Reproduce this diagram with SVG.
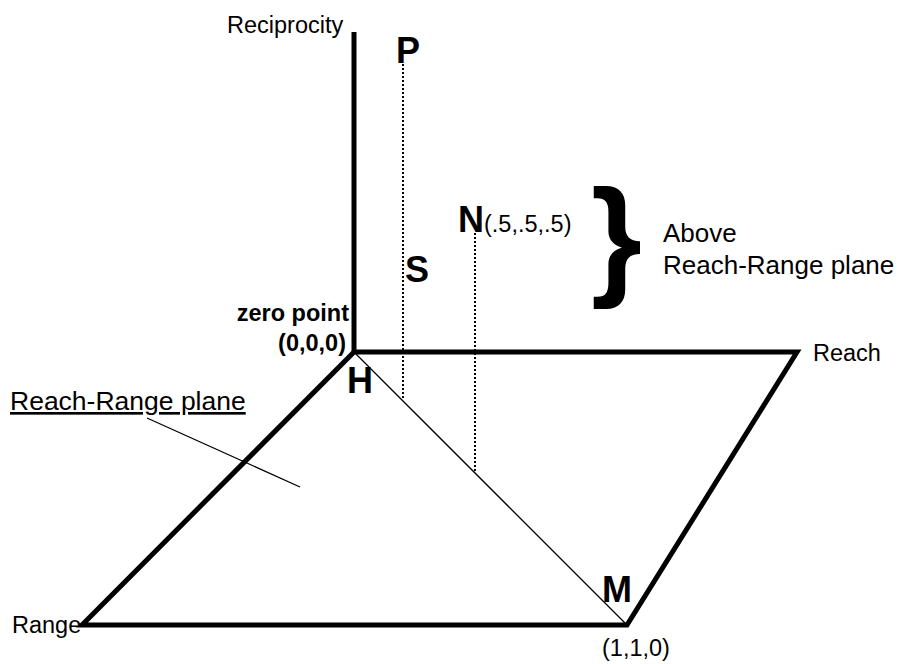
<svg xmlns="http://www.w3.org/2000/svg" width="900" height="664" viewBox="0 0 900 664">
<style>
text{font-family:"Liberation Sans",Arial,sans-serif;fill:#000}
.lbl{font-size:23.5px}
.big{font-size:36px;font-weight:bold}
.thick{fill:none;stroke:#000;stroke-width:5;stroke-linejoin:miter}
.thin{fill:none;stroke:#000;stroke-width:1.3}
.dot{fill:none;stroke:#000;stroke-width:2;stroke-dasharray:2 2}
</style>
<rect width="900" height="664" fill="#fff"/>
<g id="connectors">
<path class="thick" d="M354,32 L354,352"/>
<path class="thick" d="M354,352 L797,352 L627,625 L82,625 Z"/>
<path class="thin" d="M354,352 L627,625"/>
<path class="thin" d="M147,418 L300,487"/>
<path class="dot" d="M403,64 L403,400"/>
<path class="dot" d="M475,233 L475,472"/>
</g>
<g id="reciprocity"><text class="lbl" x="227" y="33">Reciprocity</text></g>
<g id="reach"><text class="lbl" x="813" y="361">Reach</text></g>
<g id="range"><text class="lbl" x="12" y="633">Range</text></g>
<g id="point-110"><text class="lbl" x="602" y="656">(1,1,0)</text></g>
<g id="zero"><text class="lbl" font-weight="bold" text-anchor="end" x="349" y="321">zero point</text><text class="lbl" font-weight="bold" text-anchor="end" x="346" y="351">(0,0,0)</text></g>
<g id="P"><text class="big" x="396" y="63">P</text></g>
<g id="S"><text class="big" x="405" y="282">S</text></g>
<g id="N"><text class="big" x="458" y="232">N</text><text class="lbl" x="484" y="232">(.5,.5,.5)</text></g>
<g id="H"><text class="big" x="347" y="393">H</text></g>
<g id="M"><text class="big" x="602" y="602">M</text></g>
<g id="plane-label"><text x="10" y="410" font-size="26.5" text-decoration="underline">Reach-Range plane</text></g>
<g id="above"><text x="591" y="282" font-size="131" font-weight="bold">}</text><text x="663" y="242" font-size="26">Above</text><text x="663" y="274" font-size="26">Reach-Range plane</text></g>
</svg>
